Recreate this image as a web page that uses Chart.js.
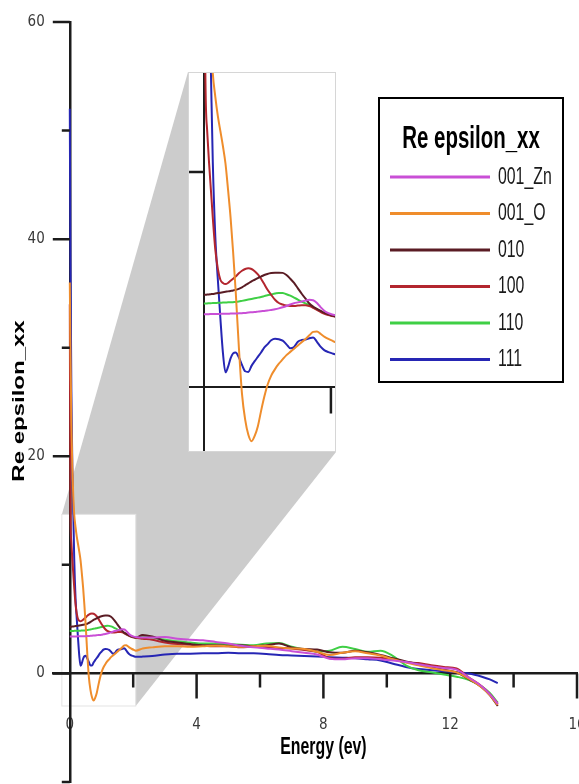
<!DOCTYPE html>
<html>
<head>
<meta charset="utf-8">
<script src="https://cdn.jsdelivr.net/npm/chart.js@4.4.1/dist/chart.umd.min.js"></script>
<style>
  html, body { margin: 0; padding: 0; background: #fff; overflow: hidden; }
  #wrap { position: relative; width: 579px; height: 784px; }
  #mainChart { position: absolute; left: 0; top: 0; }
  #insetChart { position: absolute; left: 188px; top: 72px; }
</style>
</head>
<body>
<div id="wrap">
  <canvas id="mainChart" width="579" height="784"></canvas>
  <canvas id="insetChart" width="148" height="380"></canvas>
</div>
<script>
// photon energy (eV), dense near 0 where the inset zooms in
const energy = [
  0, 0.02, 0.05, 0.08, 0.11, 0.14, 0.18, 0.22, 0.26, 0.3,
  0.34, 0.38, 0.42, 0.46, 0.5, 0.55, 0.6, 0.65, 0.7, 0.75,
  0.8, 0.85, 0.9, 0.95, 1.0, 1.06, 1.12, 1.18, 1.24, 1.3,
  1.36, 1.42, 1.48, 1.54, 1.6, 1.66, 1.72, 1.78, 1.84, 1.9,
  1.96, 2.02, 2.08, 2.3, 2.6, 3.0, 3.4, 3.8, 4.2, 4.6,
  5.0, 5.4, 5.8, 6.2, 6.6, 7.0, 7.4, 7.8, 8.2, 8.6,
  9.0, 9.4, 9.8, 10.2, 10.6, 11.0, 11.4, 11.8, 12.2, 12.6,
  13.0, 13.25, 13.5
];

const reZn001 = [
  3.4, 3.4, 3.4, 3.4, 3.41, 3.41, 3.41, 3.41, 3.42, 3.42,
  3.42, 3.42, 3.43, 3.43, 3.43, 3.44, 3.45, 3.46, 3.48, 3.49,
  3.5, 3.52, 3.54, 3.55, 3.57, 3.6, 3.63, 3.67, 3.72, 3.78,
  3.85, 3.91, 3.95, 3.99, 4.03, 4.07, 4.05, 3.92, 3.72, 3.55,
  3.45, 3.39, 3.35, 3.3, 3.3, 3.35, 3.2, 3.1, 3.05, 2.9,
  2.75, 2.55, 2.4, 2.3, 2.2, 2.05, 1.9, 1.75, 1.35, 1.3,
  1.4, 1.4, 1.3, 1.2, 1.05, 0.85, 0.65, 0.5, 0.35, -0.4,
  -1.2, -1.9, -2.8
];
const reO001 = [
  36, 30, 23, 19, 16.3, 14.6, 13.5, 12.6, 11.9, 11.2,
  10.4, 9.2, 7.9, 6.3, 4.5, 1.9, -0.3, -1.5, -2.2, -2.5,
  -2.25, -1.8, -1.1, -0.45, 0.1, 0.55, 0.85, 1.1, 1.3, 1.5,
  1.65, 1.8, 1.95, 2.1, 2.25, 2.42, 2.58, 2.6, 2.48, 2.35,
  2.25, 2.17, 2.1, 2.3, 2.4, 2.5, 2.5, 2.45, 2.5, 2.55,
  2.5, 2.45, 2.5, 2.55, 2.4, 2.3, 2.25, 2.0, 1.7, 1.9,
  2.05, 1.85, 1.65, 1.3, 1.0, 0.75, 0.5, 0.3, 0.1, -0.5,
  -1.3, -2.0, -2.9
];
const re010 = [
  4.3, 4.3, 4.31, 4.32, 4.33, 4.34, 4.36, 4.38, 4.4, 4.42,
  4.44, 4.46, 4.48, 4.5, 4.53, 4.58, 4.65, 4.74, 4.83, 4.93,
  5.0, 5.08, 5.15, 5.22, 5.27, 5.31, 5.33, 5.33, 5.32, 5.22,
  5.05, 4.85, 4.6, 4.35, 4.12, 3.9, 3.75, 3.65, 3.55, 3.46,
  3.39, 3.34, 3.3, 3.55, 3.4, 3.0, 2.85, 2.7, 2.6, 2.6,
  2.55, 2.6, 2.5, 2.6, 2.75, 2.4, 2.25, 2.2, 1.95, 1.9,
  2.1, 1.95, 1.7, 1.4, 1.1, 0.85, 0.6, 0.35, 0.1, -0.55,
  -1.3, -2.0, -3.0
];
const re100 = [
  34, 15.5, 12.0, 10.5, 9.2, 7.9, 6.4, 5.5, 5.0, 4.85,
  4.8, 4.85, 4.95, 5.05, 5.15, 5.3, 5.42, 5.5, 5.53, 5.5,
  5.4, 5.25, 5.05, 4.8, 4.55, 4.3, 4.07, 3.92, 3.85, 3.8,
  3.78, 3.78, 3.8, 3.82, 3.82, 3.78, 3.7, 3.6, 3.5, 3.42,
  3.36, 3.32, 3.28, 3.2, 3.1, 2.85, 2.7, 2.65, 2.55, 2.5,
  2.5, 2.4, 2.45, 2.4, 2.35, 2.3, 2.15, 2.0, 1.4, 1.35,
  1.5, 1.5, 1.45, 1.3, 1.05, 0.95, 0.75, 0.6, 0.45, -0.4,
  -1.2, -1.9, -2.8
];
const re110 = [
  3.9, 3.9, 3.9, 3.91, 3.91, 3.92, 3.92, 3.93, 3.93, 3.94,
  3.94, 3.95, 3.95, 3.96, 3.97, 3.99, 4.02, 4.05, 4.08, 4.11,
  4.14, 4.17, 4.2, 4.24, 4.28, 4.32, 4.36, 4.39, 4.38, 4.33,
  4.26, 4.17, 4.08, 3.98, 3.9, 3.82, 3.72, 3.62, 3.52, 3.44,
  3.38, 3.33, 3.3, 3.4, 3.3, 3.1, 2.95, 2.85, 2.75, 2.75,
  2.7, 2.65, 2.6, 2.75, 2.8, 2.45, 2.2, 2.0, 2.1, 2.45,
  2.25, 2.0, 2.1, 1.6, 0.75, 0.3, 0.1, -0.1, -0.3, -0.6,
  -1.2, -1.8, -2.7
];
const re111 = [
  52, 38, 26, 19, 14.8, 10.5, 7.0, 5.0, 3.2, 1.6,
  0.7, 0.95, 1.35, 1.58, 1.62, 1.4, 1.05, 0.75, 0.72, 1.0,
  1.22, 1.42, 1.62, 1.85, 2.0, 2.19, 2.26, 2.24, 2.17, 2.0,
  1.82, 1.88, 2.12, 2.2, 2.22, 2.28, 2.32, 2.12, 1.88, 1.72,
  1.64, 1.58, 1.53, 1.55, 1.6, 1.75, 1.82, 1.82, 1.85, 1.85,
  1.9, 1.85, 1.85, 1.8, 1.7, 1.65, 1.6, 1.55, 1.5, 1.45,
  1.4, 1.3, 1.2, 0.9, 0.6, 0.4, 0.3, 0.2, 0.1, 0.0,
  -0.3, -0.55, -0.9
];

const seriesNames = ['001_Zn', '001_O', '010', '100', '110', '111'];
const seriesValues = [reZn001, reO001, re010, re100, re110, re111];
const seriesColors = ['#c94fd6', '#ef8d2c', '#5a1c24', '#b3262e', '#3fcf45', '#2626b4'];

const xTickLabels = [0, 4, 8, 12, 16];
const xMinorTicks = [2, 6, 10, 14];
const yTickLabels = [0, 20, 40, 60];
const yMinorTicks = [-10, 10, 30, 50];

// region of the main plot that the inset magnifies
const zoomX = [-0.25, 2.08];
const zoomY = [-3, 14.65];
const insetYTicks = [10];
const insetXTicks = [2];

const insetRect = { left: 188, top: 72, right: 336, bottom: 452 };
const tickFont = "'Liberation Sans Narrow', 'DejaVu Sans Condensed', 'Liberation Sans', Arial, sans-serif";
const textFont = "'Liberation Sans', Arial, sans-serif";
const axisColor = '#1c1c1c';

function squeezed(ctx, text, x, y, size, sx, align, rotate) {
  ctx.save();
  ctx.translate(x, y);
  if (rotate) {
    ctx.rotate(-Math.PI / 2);
    ctx.scale(1, sx);
  } else {
    ctx.scale(sx, 1);
  }
  ctx.font = 'bold ' + size + 'px ' + textFont;
  ctx.textAlign = align;
  ctx.textBaseline = 'middle';
  ctx.fillStyle = '#000';
  ctx.fillText(text, 0, 0);
  ctx.restore();
}

function makeDatasets(width) {
  return seriesNames.map((name, i) => ({
    label: name,
    data: energy.map((e, k) => ({ x: e, y: seriesValues[i][k] })),
    borderColor: seriesColors[i],
    backgroundColor: seriesColors[i],
    borderWidth: width,
    pointRadius: 0,
    fill: false,
    cubicInterpolationMode: 'monotone'
  }));
}

function noSpace(scale) {
  scale.paddingLeft = 0; scale.paddingRight = 0;
  scale.paddingTop = 0; scale.paddingBottom = 0;
  if (scale.isHorizontal()) scale.height = 0; else scale.width = 0;
}

const mainDecor = {
  id: 'mainDecor',
  beforeDraw(chart) {
    const { ctx, scales: { x, y } } = chart;
    ctx.save();
    ctx.fillStyle = '#fff';
    ctx.fillRect(0, 0, chart.width, chart.height);
    const bx0 = x.getPixelForValue(zoomX[0]), bx1 = x.getPixelForValue(zoomX[1]);
    const by0 = y.getPixelForValue(zoomY[1]), by1 = y.getPixelForValue(zoomY[0]);
    ctx.fillStyle = '#cccccc';
    ctx.beginPath();
    ctx.moveTo(bx0, by0);
    ctx.lineTo(insetRect.left, insetRect.top);
    ctx.lineTo(insetRect.right, insetRect.bottom);
    ctx.lineTo(bx1, by1);
    ctx.closePath();
    ctx.fill();
    ctx.fillStyle = '#fff';
    ctx.fillRect(bx0, by0, bx1 - bx0, by1 - by0);
    ctx.strokeStyle = '#e3e3e3';
    ctx.lineWidth = 1;
    ctx.strokeRect(bx0, by0, bx1 - bx0, by1 - by0);
    ctx.restore();
  },
  afterDraw(chart) {
    const { ctx, scales: { x, y } } = chart;
    const x0 = x.getPixelForValue(0), y0 = y.getPixelForValue(0);
    ctx.save();
    ctx.strokeStyle = axisColor;
    ctx.lineWidth = 2.5;
    ctx.beginPath();
    yTickLabels.forEach(v => { const p = y.getPixelForValue(v); ctx.moveTo(x0 - 17, p); ctx.lineTo(x0, p); });
    yMinorTicks.forEach(v => { const p = y.getPixelForValue(v); ctx.moveTo(x0 - 8, p); ctx.lineTo(x0, p); });
    xTickLabels.filter(v => v !== 0).forEach(v => { const p = x.getPixelForValue(v); ctx.moveTo(p, y0); ctx.lineTo(p, y0 + 25); });
    xMinorTicks.forEach(v => { const p = x.getPixelForValue(v); ctx.moveTo(p, y0); ctx.lineTo(p, y0 + 14); });
    ctx.stroke();

    // axis titles
    squeezed(ctx, 'Energy (ev)', x.getPixelForValue(8), 748, 23, 0.69, 'center', false);
    squeezed(ctx, 'Re epsilon_xx', 19, 401, 24, 0.69, 'center', true);

    // legend box
    const lx = 379, ly = 98, lw = 184, lh = 284;
    ctx.fillStyle = '#fff';
    ctx.fillRect(lx, ly, lw, lh);
    ctx.strokeStyle = '#000';
    ctx.lineWidth = 2;
    ctx.strokeRect(lx, ly, lw, lh);
    squeezed(ctx, 'Re epsilon_xx', lx + lw / 2, 139, 31, 0.66, 'center', false);
    chart.data.datasets.forEach((ds, i) => {
      const yy = 177 + i * 36.5;
      ctx.strokeStyle = ds.borderColor;
      ctx.lineWidth = 3;
      ctx.beginPath();
      ctx.moveTo(390, yy);
      ctx.lineTo(490, yy);
      ctx.stroke();
      ctx.save();
      ctx.translate(498, yy);
      ctx.scale(0.66, 1);
      ctx.font = '24px ' + textFont;
      ctx.fillStyle = '#1a1a1a';
      ctx.textBaseline = 'middle';
      ctx.fillText(ds.label, 0, 0);
      ctx.restore();
    });
    ctx.restore();
  }
};

new Chart(document.getElementById('mainChart'), {
  type: 'line',
  data: { datasets: makeDatasets(2) },
  options: {
    responsive: false,
    animation: false,
    layout: { padding: { left: 53, right: 2, top: 22, bottom: 2 } },
    plugins: { legend: { display: false }, tooltip: { enabled: false } },
    scales: {
      x: {
        type: 'linear', min: -0.53, max: 16,
        position: { y: 0 },
        grid: { display: false },
        border: { color: axisColor, width: 2.5 },
        ticks: { padding: 35, maxRotation: 0, color: '#3a3a3a', font: { family: tickFont, size: 15 } },
        afterBuildTicks: s => { s.ticks = xTickLabels.map(v => ({ value: v })); },
        afterFit: noSpace
      },
      y: {
        type: 'linear', min: -10, max: 60,
        position: { x: 0 },
        grid: { display: false },
        border: { color: axisColor, width: 2.5 },
        ticks: { display: false },
        afterFit: noSpace
      },
      yl: {
        axis: 'y', type: 'linear', min: -10, max: 60,
        position: { x: -0.79 },
        grid: { display: false },
        border: { display: false },
        ticks: { color: '#3a3a3a', font: { family: tickFont, size: 15 } },
        afterBuildTicks: s => { s.ticks = yTickLabels.map(v => ({ value: v })); },
        afterFit: noSpace
      }
    }
  },
  plugins: [mainDecor]
});

const insetDecor = {
  id: 'insetDecor',
  beforeDraw(chart) {
    chart.ctx.save();
    chart.ctx.fillStyle = '#fff';
    chart.ctx.fillRect(0, 0, chart.width, chart.height);
    chart.ctx.restore();
  },
  afterDraw(chart) {
    const { ctx, scales: { x, y } } = chart;
    const x0 = x.getPixelForValue(0), y0 = y.getPixelForValue(0);
    ctx.save();
    ctx.strokeStyle = axisColor;
    ctx.lineWidth = 2.5;
    ctx.beginPath();
    insetYTicks.forEach(v => { const p = y.getPixelForValue(v); ctx.moveTo(x0 - 16, p); ctx.lineTo(x0, p); });
    insetXTicks.forEach(v => { const p = x.getPixelForValue(v); ctx.moveTo(p, y0); ctx.lineTo(p, y0 + 26); });
    ctx.stroke();
    ctx.strokeStyle = '#d6d6d6';
    ctx.lineWidth = 1;
    ctx.strokeRect(0.5, 0.5, chart.width - 1, chart.height - 1);
    ctx.restore();
  }
};

new Chart(document.getElementById('insetChart'), {
  type: 'line',
  data: { datasets: makeDatasets(2) },
  options: {
    responsive: false,
    animation: false,
    layout: { padding: 0 },
    plugins: { legend: { display: false }, tooltip: { enabled: false } },
    scales: {
      x: {
        type: 'linear', min: zoomX[0], max: zoomX[1],
        position: { y: 0 },
        grid: { display: false },
        border: { color: axisColor, width: 2 },
        ticks: { display: false },
        afterFit: noSpace
      },
      y: {
        type: 'linear', min: zoomY[0], max: zoomY[1],
        position: { x: 0 },
        grid: { display: false },
        border: { color: axisColor, width: 2 },
        ticks: { display: false },
        afterFit: noSpace
      }
    }
  },
  plugins: [insetDecor]
});
</script>
</body>
</html>
